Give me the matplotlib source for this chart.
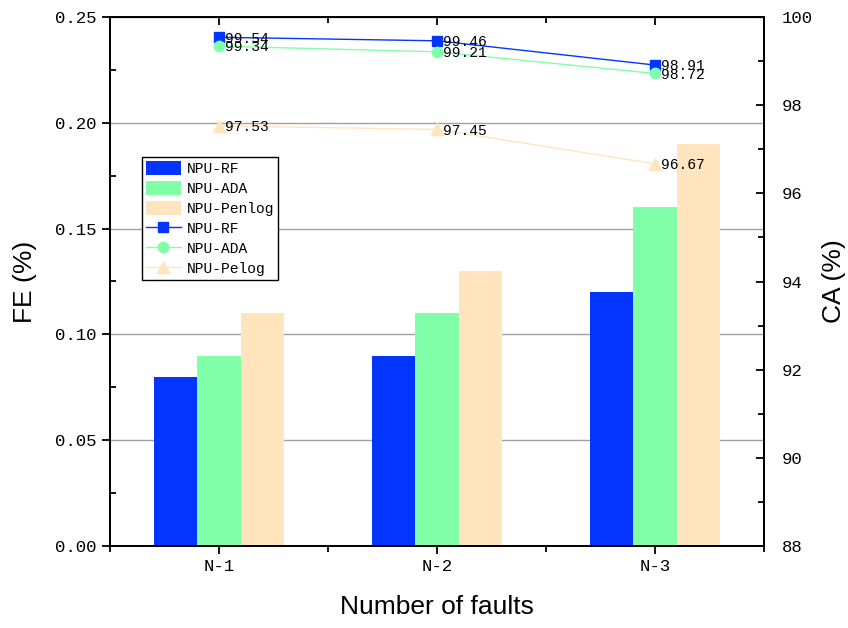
import matplotlib
matplotlib.use("Agg")
import matplotlib.pyplot as plt
from matplotlib.ticker import MultipleLocator
import numpy as np

categories = ["N-1", "N-2", "N-3"]
fe_rf = [0.08, 0.09, 0.12]
fe_ada = [0.09, 0.11, 0.16]
fe_penlog = [0.11, 0.13, 0.19]
ca_rf = [99.54, 99.46, 98.91]
ca_ada = [99.34, 99.21, 98.72]
ca_pelog = [97.53, 97.45, 96.67]

blue = "#0335FF"
green = "#80FFA8"
peach = "#FFE4BE"
mono = "Liberation Mono"

x = np.arange(1, len(categories) + 1)
w = 0.2

fig, ax = plt.subplots(figsize=(8.48, 6.28), dpi=100)
fig.subplots_adjust(left=110/848, right=764/848, top=1-17/628, bottom=1-546/628)

ax.set_axisbelow(True)
ax.yaxis.grid(True, color="#a0a0a0", lw=1)
ax.bar(x - w, fe_rf, w, color=blue, label="NPU-RF")
ax.bar(x, fe_ada, w, color=green, label="NPU-ADA")
ax.bar(x + w, fe_penlog, w, color=peach, label="NPU-Penlog")
ax.set_xlim(0.5, 3.5)
ax.set_ylim(0, 0.25)
ax.set_xticks(x)
ax.set_xticklabels(categories)
ax.xaxis.set_minor_locator(MultipleLocator(0.5))
ax.yaxis.set_major_locator(MultipleLocator(0.05))
ax.yaxis.set_minor_locator(MultipleLocator(0.025))
ax.yaxis.set_major_formatter(matplotlib.ticker.FormatStrFormatter("%.2f"))
ax.tick_params(axis="both", which="major", direction="out", length=6, width=1.3, labelsize=12.5)
ax.tick_params(axis="y", which="minor", direction="in", length=4, width=1.3)
ax.tick_params(axis="x", which="minor", direction="out", length=4, width=1.3)
for lab in ax.get_xticklabels() + ax.get_yticklabels():
    lab.set_fontfamily(mono)
ax.set_xlabel("Number of faults", fontsize=19, family="Liberation Sans", labelpad=15)
ax.set_ylabel("FE (%)", fontsize=19, family="Liberation Sans", labelpad=13)

top = ax.secondary_xaxis("top")
top.set_xticks(x)
top.xaxis.set_minor_locator(MultipleLocator(0.5))
top.tick_params(which="major", direction="in", length=6, width=1.3, labeltop=False)
top.tick_params(which="minor", direction="in", length=4, width=1.3)

ax2 = ax.twinx()
l1, = ax2.plot(x, ca_rf, color=blue, lw=1, marker="s", ms=7, label="NPU-RF")
l2, = ax2.plot(x, ca_ada, color=green, lw=1, marker="o", ms=7.5, label="NPU-ADA")
l3, = ax2.plot(x, ca_pelog, color=peach, lw=1, marker="^", ms=8.5, label="NPU-Pelog")
for series in (ca_rf, ca_ada, ca_pelog):
    for xi, v in zip(x, series):
        ax2.annotate(f"{v:.2f}", (xi, v), xytext=(4, -1), textcoords="offset points",
                     va="center", ha="left", fontsize=10.5, family=mono)
ax2.set_ylim(88, 100)
ax2.yaxis.set_major_locator(MultipleLocator(2))
ax2.yaxis.set_minor_locator(MultipleLocator(1))
ax2.tick_params(axis="y", which="major", direction="in", length=6, width=1.3,
                labelsize=12.5, pad=13)
ax2.tick_params(axis="y", which="minor", direction="in", length=4, width=1.3)
for lab in ax2.get_yticklabels():
    lab.set_fontfamily(mono)
ax2.set_ylabel("CA (%)", fontsize=19, family="Liberation Sans", labelpad=6)

for a in (ax, ax2):
    for s in a.spines.values():
        s.set_linewidth(1.3)

h1, lb1 = ax.get_legend_handles_labels()
leg = ax2.legend(h1 + [l1, l2, l3], lb1 + ["NPU-RF", "NPU-ADA", "NPU-Pelog"],
                 loc="upper left", bbox_to_anchor=(0.049, 0.735), fancybox=False,
                 edgecolor="black", framealpha=1, prop={"family": mono, "size": 10.5},
                 handlelength=2.4, handleheight=1.1, borderpad=0.25, labelspacing=0.35,
                 handletextpad=0.45, borderaxespad=0)
leg.get_frame().set_linewidth(1)

fig.savefig("out.png", dpi=100)
